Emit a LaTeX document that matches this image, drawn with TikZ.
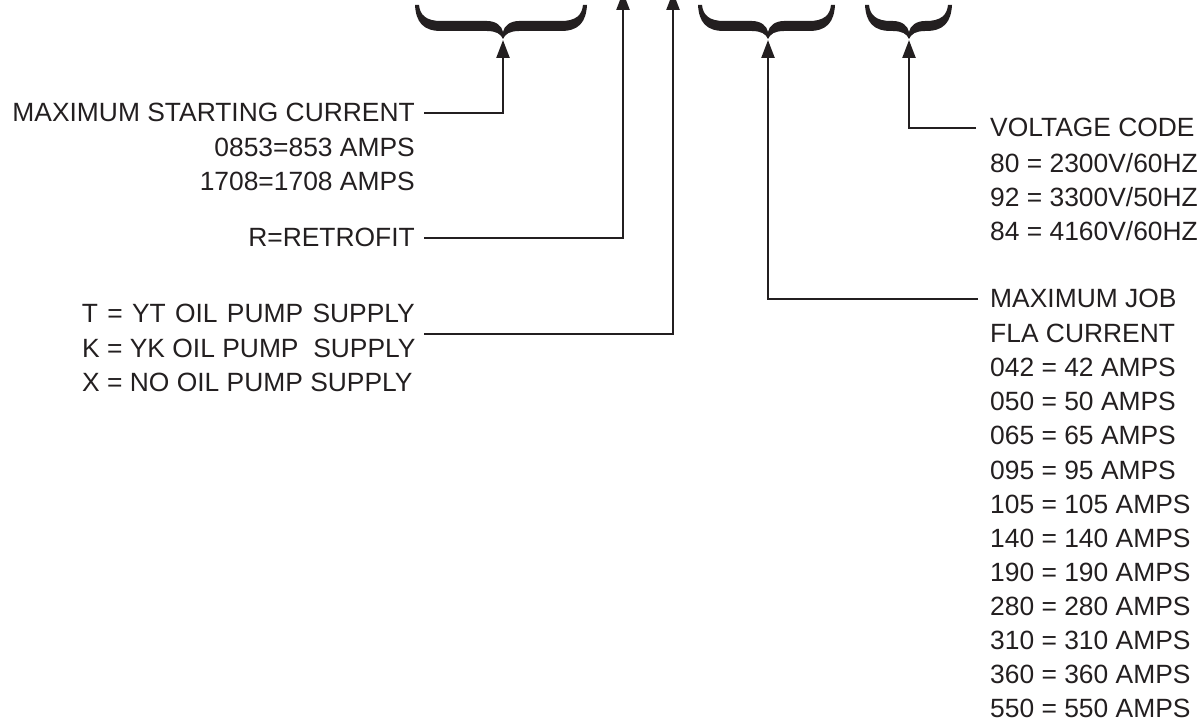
\documentclass[tikz,border=0pt]{standalone}
\usepackage{fontspec}
\setmainfont{Liberation Sans}
\usetikzlibrary{positioning,arrows.meta}

\definecolor{ink}{RGB}{35,31,32}

% filled calligraphic brace: left end, tip, right end (x in px)
\newcommand{\curlybrace}[3]{%
  \fill[ink] (#1,5) .. controls ({#1+1},22) and ({#1+8},31) .. ({#1+26},31)
    -- ({#2-16},31) .. controls ({#2-7},31) and ({#2-2},34) .. (#2,39)
    .. controls ({#2+2},34) and ({#2+7},31) .. ({#2+16},31)
    -- ({#3-26},31) .. controls ({#3-8},31) and ({#3-1},22) .. (#3,5)
    -- ({#3-4},5) .. controls ({#3-5},15) and ({#3-11},21) .. ({#3-26},21)
    -- ({#2+16},21) .. controls ({#2+7},21) and ({#2+1},26) .. (#2,32)
    .. controls ({#2-1},26) and ({#2-7},21) .. ({#2-16},21)
    -- ({#1+26},21) .. controls ({#1+11},21) and ({#1+5},15) .. ({#1+4},5)
    -- cycle;}

\begin{document}
\begin{tikzpicture}[x=1pt, y=-1pt,
    txt/.style={inner sep=0pt, text=ink, font=\fontsize{26.4}{34.1}\selectfont},
    conn/.style={draw=ink, line width=2.4pt,
      -{Triangle[width=13pt,length=18pt]}}]
  \useasboundingbox (0,0) rectangle (1202,727);

  % Braces over the code fields
  \curlybrace{415}{503}{587}
  \curlybrace{698}{768}{835}
  \curlybrace{865}{909}{952}

  % Arrow targets
  \coordinate (b1) at (503,40);
  \coordinate (b2) at (768,40);
  \coordinate (b3) at (909,40);
  \coordinate (rtop) at (623,-8);
  \coordinate (ttop) at (673,-8);

  % Left descriptions
  \node[txt, anchor=base east] (curr) at (415,122) {MAXIMUM STARTING CURRENT};
  \node[txt, anchor=north east, align=right] (amps) at (415,138)
    {0853=853 AMPS\\1708=1708 AMPS};
  \node[txt, anchor=base east] (retro) at (415,247) {R=RETROFIT};
  \node[txt, anchor=base east] (oilT) at (415,323)
    {\makebox[333pt][s]{T = YT OIL PUMP SUPPLY}};
  \node[txt, anchor=north west, align=left] (oil) at (82,339)
    {K = YK OIL PUMP\ \ SUPPLY\\X = NO OIL PUMP SUPPLY};

  % Right descriptions
  \node[txt, anchor=base west] (volt) at (990,137) {VOLTAGE CODE};
  \node[txt, anchor=north west, align=left] (vlist) at (990,153)
    {80 = 2300V/60HZ\\92 = 3300V/50HZ\\84 = 4160V/60HZ};
  \node[txt, anchor=base west] (job) at (990,308) {MAXIMUM JOB};
  \node[txt, anchor=north west, align=left] (jlist) at (990,324)
    {FLA CURRENT\\042 = 42 AMPS\\050 = 50 AMPS\\065 = 65 AMPS\\095 = 95 AMPS\\
     105 = 105 AMPS\\140 = 140 AMPS\\190 = 190 AMPS\\280 = 280 AMPS\\
     310 = 310 AMPS\\360 = 360 AMPS\\550 = 550 AMPS};

  % Connectors
  \draw[conn] ([xshift=9pt]curr.east) -| (b1);
  \draw[conn] ([xshift=9pt]retro.east) -| (rtop);
  \draw[conn] ([xshift=9pt,yshift=-20pt]oilT.east) -| (ttop);
  \draw[conn] ([xshift=-12pt]job.west) -| (b2);
  \draw[conn] ([xshift=-14pt]volt.west) -| (b3);
\end{tikzpicture}
\end{document}
